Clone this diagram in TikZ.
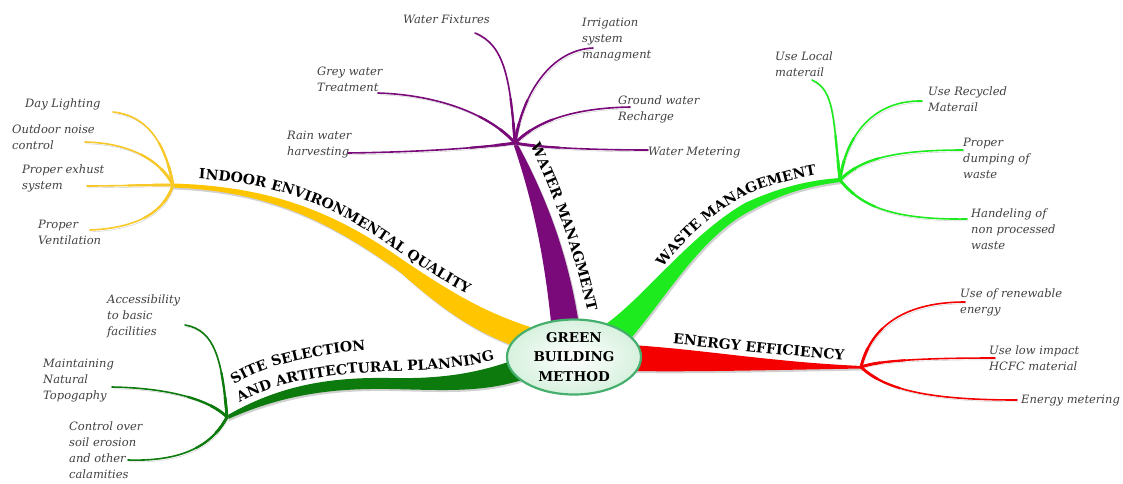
\documentclass[tikz,border=0pt]{standalone}
\usepackage{fontspec}
\setmainfont{DejaVu Serif}
\usetikzlibrary{shapes.geometric,decorations.text}
\definecolor{cPurple}{RGB}{122,10,122}
\definecolor{cYellow}{RGB}{255,198,0}
\definecolor{cYellowL}{RGB}{247,200,40}
\definecolor{cDGreen}{RGB}{12,122,12}
\definecolor{cLime}{RGB}{30,235,30}
\definecolor{cRed}{RGB}{245,0,0}
\definecolor{cLeaf}{RGB}{64,64,64}
\definecolor{cRim}{RGB}{70,175,110}
\definecolor{cFill}{RGB}{215,241,222}
\newcommand\leaffont{\fontsize{11.5}{16}\selectfont\itshape}
\newcommand\labfont{\fontsize{14}{16}\selectfont\bfseries}
\newcommand\twig[4]{%
  \draw[sub, draw=#1] (#2) .. controls #3 .. (#4);
  \draw[subA, draw=#1] (#2) .. controls #3 .. (#4);
  \draw[subB, draw=#1] (#2) .. controls #3 .. (#4);}
\begin{document}
\begin{tikzpicture}[x=1pt,y=-1pt,
  dropsh/.style={preaction={draw=black!22, transform canvas={shift={(1.2pt,-1.8pt)}}}},
  sub/.style={line width=1.6pt, line cap=round, dropsh},
  subA/.style={line width=2.2pt, dash pattern=on 45pt off 2000pt},
  subB/.style={line width=2.8pt, dash pattern=on 20pt off 2000pt},
  band/.style={preaction={fill=black!18, transform canvas={shift={(1.5pt,-2pt)}}}},
  leaf/.style={font=\leaffont, text=cLeaf, inner sep=0pt, anchor=north west, align=left},
  lab/.style={decorate, decoration={text along path, text align=center, text={|\labfont|#1}}}]
\useasboundingbox (0,0) rectangle (1123,483);

% hubs
\coordinate (hubW) at (515,143);
\coordinate (hubI) at (173,185);
\coordinate (hubS) at (227,417);
\coordinate (hubM) at (840,180);
\coordinate (hubE) at (861,367);

% main bands
\fill[cYellow, band] (172,183.5) .. controls (270,186) and (335,212) .. (403,260) .. controls (455,295) and (485,312) .. (530,327) -- (525,350) .. controls (478,334) and (445,312) .. (400,272) .. controls (330,222) and (270,191) .. (172,187.5) -- cycle;
\fill[cDGreen, band] (227,415.5) .. controls (280,385) and (330,377) .. (390,378) .. controls (440,379) and (478,374) .. (522,357) -- (522,380) .. controls (480,393) and (440,390) .. (390,389) .. controls (330,388) and (282,395) .. (227,419.5) -- cycle;
\fill[cPurple, band] (552,332) .. controls (546,270) and (536,210) .. (513,143) -- (517,143) .. controls (548,200) and (570,260) .. (580,332) -- cycle;
\fill[cLime, band] (606,324) .. controls (645,296) and (690,235) .. (745,203) .. controls (780,187) and (810,180) .. (840,178) -- (840,182) .. controls (810,186) and (785,192) .. (752,210) .. controls (700,236) and (665,300) .. (626,344) -- cycle;
\fill[cRed, band] (630,345) .. controls (700,349) and (770,362) .. (862,366) -- (862,368.5) .. controls (770,370) and (700,372) .. (630,371) -- cycle;

% line ends
\coordinate (wfE) at (475,33);
\coordinate (irE) at (593,48);
\coordinate (gwE) at (378,93);
\coordinate (grE) at (630,107);
\coordinate (rwE) at (348,153);
\coordinate (wmE) at (648,150);
\coordinate (dlE) at (113,112);
\coordinate (onE) at (85,142);
\coordinate (peE) at (87,186);
\coordinate (pvE) at (90,230);
\coordinate (acE) at (185,325);
\coordinate (mnE) at (112,387);
\coordinate (coE) at (128,460);
\coordinate (ulE) at (812,80);
\coordinate (urE) at (922,101);
\coordinate (pdE) at (963,150);
\coordinate (hnE) at (967,219);
\coordinate (reE) at (965,302);
\coordinate (liE) at (995,358);
\coordinate (emE) at (1017,400);

% sub-branches
\twig{cPurple}{hubW}{(510,80) and (505,45)}{wfE}
\twig{cPurple}{hubW}{(522,95) and (550,50)}{irE}
\twig{cPurple}{hubW}{(490,115) and (440,95)}{gwE}
\twig{cPurple}{hubW}{(540,118) and (580,108)}{grE}
\twig{cPurple}{hubW}{(480,148) and (420,152)}{rwE}
\twig{cPurple}{hubW}{(540,148) and (600,150)}{wmE}
\twig{cYellowL}{hubI}{(165,140) and (145,115)}{dlE}
\twig{cYellowL}{hubI}{(160,160) and (130,143)}{onE}
\twig{cYellowL}{hubI}{(140,185) and (110,186)}{peE}
\twig{cYellowL}{hubI}{(165,210) and (140,228)}{pvE}
\twig{cDGreen}{hubS}{(222,360) and (215,330)}{acE}
\twig{cDGreen}{hubS}{(210,400) and (170,388)}{mnE}
\twig{cDGreen}{hubS}{(215,440) and (190,462)}{coE}
\twig{cLime}{hubM}{(833,120) and (835,90)}{ulE}
\twig{cLime}{hubM}{(845,140) and (870,100)}{urE}
\twig{cLime}{hubM}{(860,160) and (890,150)}{pdE}
\twig{cLime}{hubM}{(860,205) and (890,220)}{hnE}
\twig{cRed}{hubE}{(870,330) and (900,302)}{reE}
\twig{cRed}{hubE}{(880,360) and (930,358)}{liE}
\twig{cRed}{hubE}{(885,390) and (930,400)}{emE}

% center
\node[ellipse, draw=cRim, line width=2.2pt, inner color=white, outer color=cFill,
  minimum width=134pt, minimum height=75pt, inner sep=0pt, align=center,
  font=\fontsize{13.5}{19.5}\selectfont\bfseries] (center) at (574,357) {GREEN\\BUILDING\\METHOD};

% branch labels
\path[lab={INDOOR ENVIRONMENTAL QUALITY}] (183,178) .. controls (280,181) and (335,207) .. (398,251) .. controls (430,273) and (455,289) .. (482,300);
\path[lab={WATER MANAGMENT}] (528,140) .. controls (550,188) and (572,240) .. (589,318);
\path[lab={WASTE MANAGEMENT}] (651,282) .. controls (686,236) and (721,204) .. (761,189) .. controls (788,180) and (810,175) .. (835,172);
\path[lab={ENERGY EFFICIENCY}] (665,343) .. controls (720,348) and (790,357) .. (852,360);
\path[lab={SITE SELECTION}] (224,392) .. controls (252,369) and (300,355) .. (378,349);
\path[lab={AND ARTITECTURAL PLANNING}] (228,410) .. controls (265,384) and (320,373) .. (400,371) .. controls (450,370) and (480,365) .. (508,356);

% leaves
\node[leaf] (wf) at (403,14.5) {Water Fixtures};
\node[leaf] (ir) at (582,17.5) {Irrigation\\system\\managment};
\node[leaf] (gw) at (317,66.5) {Grey water\\Treatment};
\node[leaf] (gr) at (618,95.5) {Ground water\\Recharge};
\node[leaf] (rw) at (287,130.5) {Rain water\\harvesting};
\node[leaf] (wm) at (648,146.5) {Water Metering};
\node[leaf] (dl) at (25,98.5) {Day Lighting};
\node[leaf] (on) at (12,124.5) {Outdoor noise\\control};
\node[leaf] (pe) at (22,164.5) {Proper exhust\\system};
\node[leaf] (pv) at (38,219.5) {Proper\\Ventilation};
\node[leaf] (ac) at (107,294.5) {Accessibility\\to basic\\facilities};
\node[leaf] (mn) at (43,358.5) {Maintaining\\Natural\\Topogaphy};
\node[leaf] (co) at (69,421.5) {Control over\\soil erosion\\and other\\calamities};
\node[leaf] (ul) at (775,51.5) {Use Local\\materail};
\node[leaf] (ur) at (928,86.5) {Use Recycled\\Materail};
\node[leaf] (pd) at (963,137.5) {Proper\\dumping of\\waste};
\node[leaf] (hn) at (971,208.5) {Handeling of\\non processed\\waste};
\node[leaf] (re) at (960,288.5) {Use of renewable\\energy};
\node[leaf] (li) at (989,345.5) {Use low impact\\HCFC material};
\node[leaf] (em) at (1021,394.5) {Energy metering};
\end{tikzpicture}
\end{document}
